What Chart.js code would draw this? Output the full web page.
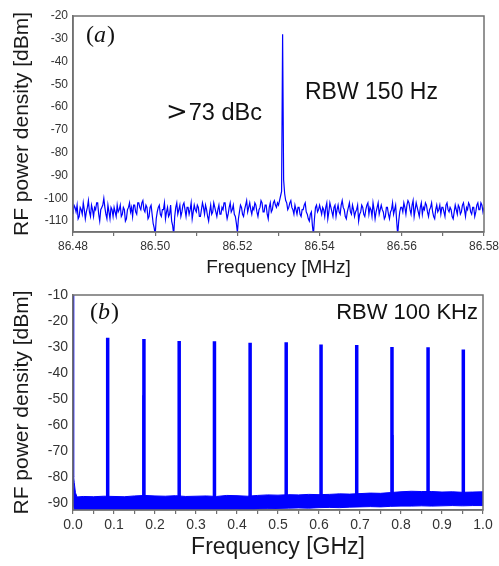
<!DOCTYPE html>
<html><head><meta charset="utf-8">
<script src="https://cdn.jsdelivr.net/npm/chart.js@4.4.1/dist/chart.umd.min.js"></script>
<style>
html,body{margin:0;padding:0;background:#fff;}
#wrap{position:relative;width:499px;height:566px;overflow:hidden;}
canvas{position:absolute;left:0;}
#cA{top:0;} #cB{top:280px;}
</style></head><body>
<div id="wrap"><canvas id="cA" width="499" height="280"></canvas><canvas id="cB" width="499" height="286"></canvas></div>
<script>
// ---------- Panel (a) data ----------
const freqStartA = 86.48;
const freqStepA = 0.00025;
const powerA = [
 -107,-103,-104,-106,-103,-109,-108,-104,-105,-107,-102,-105,-109,-106,-104,-101,-106,-108,-103,-105,
 -108,-104,-105,-102,-102,-107,-110,-105,-104,-103,-100,-104,-107,-109,-103,-106,-109,-104,-105,-108,
 -104,-106,-108,-103,-106,-105,-103,-108,-107,-104,-105,-110,-109,-105,-104,-102,-106,-104,-108,-103,
 -103,-106,-107,-102,-102,-104,-105,-102,-101,-105,-106,-103,-104,-109,-108,-104,-103,-107,-111,-113,
 -116,-109,-106,-104,-103,-107,-108,-105,-105,-102,-109,-106,-104,-108,-107,-103,-110,-112,-116,-108,
 -104,-102,-107,-105,-103,-108,-106,-103,-102,-105,-108,-104,-104,-107,-105,-102,-109,-106,-103,-105,
 -106,-103,-104,-108,-108,-105,-102,-104,-107,-103,-105,-108,-110,-106,-103,-107,-106,-102,-104,-106,
 -108,-105,-103,-107,-107,-104,-105,-102,-102,-106,-109,-107,-104,-102,-106,-105,-103,-107,-108,-111,
 -115,-109,-106,-103,-104,-107,-108,-105,-103,-101,-106,-104,-102,-105,-107,-104,-105,-102,-103,-106,
 -108,-105,-104,-101,-102,-106,-106,-103,-103,-107,-109,-104,-102,-106,-105,-102,-101,-103,-104,-102,
 -103,-101,-99,-97,-28,-92,-98,-101,-102,-105,-104,-102,-101,-104,-105,-107,-103,-105,-107,-104,
 -104,-107,-108,-105,-105,-103,-102,-106,-107,-109,-110,-107,-106,-112,-116,-109,-104,-103,-106,-105,
 -103,-105,-107,-104,-105,-108,-104,-102,-109,-106,-102,-104,-106,-108,-104,-103,-108,-105,-103,-106,
 -107,-103,-101,-104,-105,-108,-109,-106,-104,-102,-106,-107,-103,-105,-108,-106,-105,-103,-110,-107,
 -106,-103,-104,-107,-108,-105,-103,-102,-107,-104,-105,-108,-102,-105,-109,-106,-104,-102,-107,-105,
 -103,-105,-106,-109,-108,-104,-104,-107,-109,-106,-105,-102,-107,-105,-103,-110,-116,-110,-106,-104,
 -104,-106,-102,-104,-107,-103,-101,-102,-105,-107,-103,-101,-108,-105,-102,-104,-106,-108,-104,-102,
 -107,-104,-105,-102,-103,-106,-108,-105,-104,-102,-106,-108,-109,-105,-103,-106,-105,-103,-107,-104,
 -104,-106,-108,-103,-102,-105,-106,-104,-105,-108,-109,-106,-103,-105,-107,-103,-104,-107,-106,-103,
 -102,-105,-108,-104,-105,-102,-103,-106,-107,-104,-104,-108,-106,-103,-102,-105,-105,-102,-103,-106,-104
];
const xTicksA = [86.48,86.49,86.50,86.51,86.52,86.53,86.54,86.55,86.56,86.57,86.58];
const xLabelsA = ['86.48','','86.50','','86.52','','86.54','','86.56','','86.58'];
const yTicksA = [-20,-30,-40,-50,-60,-70,-80,-90,-100,-110];

// ---------- Panel (b) data ----------
const envFreqB = [0,0.003,0.006,0.01,0.025,0.05,0.075,0.1,0.125,0.15,0.175,0.2,0.225,0.25,0.275,0.3,0.325,0.35,0.375,0.4,0.425,0.45,0.475,0.5,0.525,0.55,0.575,0.6,0.625,0.65,0.675,0.7,0.725,0.75,0.775,0.8,0.825,0.85,0.875,0.9,0.925,0.95,0.975,1.0];
const floorUpperB = [-77.5,-82,-86,-87.6,-87.4,-87.5,-87.3,-87.4,-87.5,-87.2,-87.0,-87.2,-87.3,-87.1,-87.4,-87.3,-87.2,-87.4,-87.0,-87.1,-87.3,-87.0,-86.8,-86.9,-86.7,-86.8,-86.6,-86.7,-86.6,-86.4,-86.5,-86.3,-86.1,-86.2,-85.9,-85.6,-85.4,-85.5,-85.5,-85.7,-85.6,-85.8,-85.7,-85.6];
const floorLowerB = [-90,-92.3,-92.7,-92.6,-92.5,-92.6,-92.5,-92.4,-92.6,-92.5,-92.4,-92.5,-92.6,-92.4,-92.5,-92.4,-92.5,-92.6,-92.4,-92.3,-92.7,-92.2,-92.1,-92.0,-91.9,-91.8,-91.9,-91.7,-91.6,-91.7,-91.5,-91.4,-91.3,-91.4,-91.2,-91.1,-91.1,-91.0,-91.1,-91.0,-90.9,-91.0,-90.9,-90.9];
const peakFreqB = [0.0846,0.173,0.259,0.345,0.432,0.520,0.605,0.692,0.778,0.866,0.952];
const peakLevelB = [-26.4,-26.9,-27.7,-27.8,-28.3,-28.2,-29.0,-29.2,-30.0,-30.1,-30.9];
const peakBaseB = -88;
const shoulderFreqB = [0.1716,0.7795];
const shoulderLevelB = [-48.5,-63.8];
const dcFreqB = [0.0008,0.0008];
const dcLevelB = [-10,-80];
const xTicksB = [0,0.05,0.1,0.15,0.2,0.25,0.3,0.35,0.4,0.45,0.5,0.55,0.6,0.65,0.7,0.75,0.8,0.85,0.9,0.95,1.0];
const xLabelsB = ['0.0','','0.1','','0.2','','0.3','','0.4','','0.5','','0.6','','0.7','','0.8','','0.9','','1.0'];
const yTicksB = [-10,-20,-30,-40,-50,-60,-70,-80,-90];

// ---------- helpers ----------
Chart.defaults.font.family = "'Liberation Sans', Arial, sans-serif";
const BLUE = '#0000ff';
const AXIS = '#707070';

const ptsA = powerA.map((v,i)=>({x: freqStartA + i*freqStepA, y: v}));
const upperPts = envFreqB.map((f,i)=>({x:f, y:floorUpperB[i]}));
const lowerPts = envFreqB.map((f,i)=>({x:f, y:floorLowerB[i]}));
const peakPts = [];
peakFreqB.forEach((f,i)=>{ peakPts.push({x:f,y:peakBaseB},{x:f,y:peakLevelB[i]},{x:f,y:null}); });
const shoulderPts = [];
shoulderFreqB.forEach((f,i)=>{ shoulderPts.push({x:f,y:peakBaseB},{x:f,y:shoulderLevelB[i]},{x:f,y:null}); });
const dcPts = dcFreqB.map((f,i)=>({x:f,y:dcLevelB[i]}));

const framePlugin = {
  id: 'frame',
  afterDraw(chart) {
    const {ctx, chartArea:a} = chart;
    ctx.save();
    ctx.strokeStyle = AXIS; ctx.lineWidth = 1.5;
    ctx.strokeRect(a.left, a.top, a.right-a.left, a.bottom-a.top);
    ctx.restore();
  }
};
function labelPlugin(items) {
  return {
    id: 'labels',
    afterDraw(chart) {
      const ctx = chart.ctx;
      ctx.save();
      ctx.fillStyle = '#111';
      ctx.textBaseline = 'alphabetic';
      for (const it of items) {
        if (it.parts) {
          let x = it.x;
          for (const p of it.parts) {
            ctx.font = p.font; ctx.textAlign = 'left';
            ctx.fillText(p.t, x, it.y);
            x += ctx.measureText(p.t).width + (p.gap||0);
          }
        } else {
          ctx.font = it.font; ctx.textAlign = it.align || 'left';
          ctx.fillText(it.text, it.x, it.y);
        }
      }
      ctx.restore();
    }
  };
}
function xScale(min, max, ticks, labels, fontSize, title, titleSize, titlePad, h) {
  return {
    type: 'linear', min, max,
    afterBuildTicks: s => { s.ticks = ticks.map(v=>({value:v})); },
    ticks: { autoSkip:false, maxRotation:0, color:'#333', font:{size:fontSize}, padding:3,
      callback: (v, i) => labels[i] },
    grid: { drawOnChartArea:false, drawTicks:true, tickLength:4, color:AXIS, lineWidth:1.2 },
    border: { display:true, color:AXIS, width:1.5 },
    title: { display:true, text:title, color:'#1a1a1a', font:{size:titleSize}, padding:{top:0,bottom:titlePad} },
    afterFit: s => { s.height = h; s.paddingLeft = 0; s.paddingRight = 0; }
  };
}
function yScale(min, max, ticks, fontSize) {
  return {
    min, max,
    afterBuildTicks: s => { s.ticks = ticks.map(v=>({value:v})); },
    ticks: { color:'#333', font:{size:fontSize}, padding:5 },
    grid: { drawOnChartArea:false, drawTicks:false, color:AXIS },
    border: { display:true, color:AXIS, width:1.5 },
    title: { display:true, text:'RF power density [dBm]', color:'#1a1a1a', font:{size:21}, padding:{top:10,bottom:0} },
    afterFit: s => { s.width = 73; s.paddingTop = 0; s.paddingBottom = 0; }
  };
}

// ---------- Chart (a) ----------
new Chart(document.getElementById('cA'), {
  type: 'line',
  data: { datasets: [{ data: ptsA, borderColor: BLUE, borderWidth: 1.2, pointRadius: 0, tension: 0, fill: false }] },
  options: {
    responsive:false, animation:false,
    plugins:{ legend:{display:false}, tooltip:{enabled:false} },
    layout:{ padding:{ top:16, right:15, left:0, bottom:0 } },
    scales:{
      x: xScale(86.48, 86.58, xTicksA, xLabelsA, 12, 'Frequency [MHz]', 19, 1, 48),
      y: yScale(-114.8, -20, yTicksA, 12)
    }
  },
  plugins:[framePlugin, labelPlugin([
    {x:86, y:42, parts:[{t:'(',font:"24px 'Liberation Serif'"},{t:'a',font:"italic 24px 'Liberation Serif'",gap:1},{t:')',font:"24px 'Liberation Serif'"}]},
    {x:166, y:120, parts:[{t:'>',font:"26px 'DejaVu Serif'", gap:1},{t:'73 dBc',font:"23.5px 'Liberation Sans'"}]},
    {text:'RBW 150 Hz', x:305, y:99, font:"23px 'Liberation Sans'"}
  ])]
});

// ---------- Chart (b) ----------
new Chart(document.getElementById('cB'), {
  type: 'line',
  data: { datasets: [
    { data: upperPts, borderColor: BLUE, borderWidth: 1, pointRadius: 0, tension: 0, fill: false },
    { data: lowerPts, borderColor: BLUE, borderWidth: 1, pointRadius: 0, tension: 0, fill: 0, backgroundColor: BLUE },
    { data: peakPts, borderColor: BLUE, borderWidth: 3.5, pointRadius: 0, tension: 0, fill: false, spanGaps:false },
    { data: shoulderPts, borderColor: BLUE, borderWidth: 2, pointRadius: 0, tension: 0, fill: false, spanGaps:false },
    { data: dcPts, borderColor: BLUE, borderWidth: 2, pointRadius: 0, tension: 0, fill: false }
  ] },
  options: {
    responsive:false, animation:false,
    plugins:{ legend:{display:false}, tooltip:{enabled:false} },
    layout:{ padding:{ top:15, right:16, left:0, bottom:0 } },
    scales:{
      x: xScale(0, 1, xTicksB, xLabelsB, 14, 'Frequency [GHz]', 23, 5, 56),
      y: yScale(-92.6, -10, yTicksB, 14)
    }
  },
  plugins:[framePlugin, labelPlugin([
    {x:90, y:39, parts:[{t:'(',font:"24px 'Liberation Serif'"},{t:'b',font:"italic 24px 'Liberation Serif'",gap:1},{t:')',font:"24px 'Liberation Serif'"}]},
    {text:'RBW 100 KHz', x:478, y:39, font:"22px 'Liberation Sans'", align:'right'}
  ])]
});
</script>
</body></html>
